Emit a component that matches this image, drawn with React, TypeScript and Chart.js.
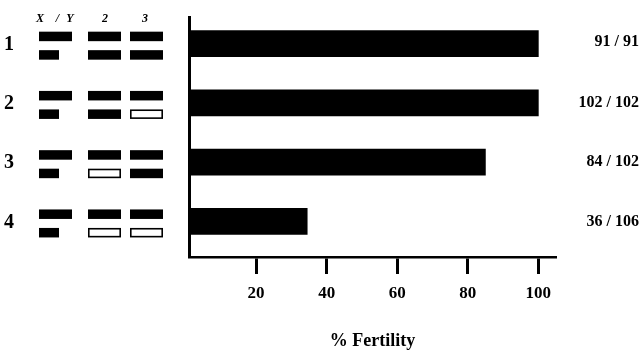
import React, { useEffect, useRef } from "react";
import { Chart, registerables } from "chart.js";

Chart.register(...registerables);

// ---- data ----
const rowLabels = ["1", "2", "3", "4"];
const rowPositions = [1, 2, 3, 4];
const fertility = [100, 100, 85, 34.5];
const counts = ["91 / 91", "102 / 102", "84 / 102", "36 / 106"];
const xTicks = [20, 40, 60, 80, 100];
const xHeaderParts = ["X", "/", "Y"];
const chrHeaders = ["2", "3"];
// Whether the lower homolog of each chromosome is filled (true) or open (false)
const chr2LowerFilled = [true, true, false, false];
const chr3LowerFilled = [true, false, true, false];

const SERIF = '"Liberation Serif", "Times New Roman", serif';

const diagramPlugin = {
  id: "diagram",
  afterDraw(chart: any) {
    const ctx = chart.ctx as CanvasRenderingContext2D;
    const ys = chart.scales.y;
    ctx.save();
    ctx.fillStyle = "#000";
    ctx.strokeStyle = "#000";
    ctx.textBaseline = "middle";
    ctx.textAlign = "center";

    // column headers
    ctx.font = `italic bold 12px ${SERIF}`;
    const xyCenters = [40, 57.5, 70];
    xHeaderParts.forEach((p, i) => ctx.fillText(p, xyCenters[i], 19));
    const colCenters = [105, 145];
    chrHeaders.forEach((h, i) => ctx.fillText(h, colCenters[i], 19));

    const drawChr = (x: number, y: number, w: number, filled: boolean) => {
      const h = 9.5;
      if (filled) {
        ctx.fillRect(x, y, w, h);
      } else {
        ctx.fillStyle = "#fff";
        ctx.fillRect(x, y, w, h);
        ctx.fillStyle = "#000";
        ctx.lineWidth = 1.6;
        ctx.strokeRect(x + 0.8, y + 0.8, w - 1.6, h - 1.6);
      }
    };

    rowLabels.forEach((lab, i) => {
      const cy = ys.getPixelForValue(rowPositions[i]);
      // row number
      ctx.font = `bold 20px ${SERIF}`;
      ctx.textAlign = "center";
      ctx.fillText(lab, 9, cy + 1);

      const top = cy - 12;
      const bot = cy + 6.5;
      // X / Y
      drawChr(39, top, 33, true);
      drawChr(39, bot, 20, true);
      // chromosome 2
      drawChr(88, top, 33, true);
      drawChr(88, bot, 33, chr2LowerFilled[i]);
      // chromosome 3
      drawChr(130, top, 33, true);
      drawChr(130, bot, 33, chr3LowerFilled[i]);

      // counts
      ctx.font = `bold 16px ${SERIF}`;
      ctx.textAlign = "right";
      ctx.fillText(counts[i], 639, i === 0 ? cy - 2 : cy);
    });
    ctx.restore();
  },
};

export default function App() {
  const ref = useRef<HTMLCanvasElement | null>(null);
  useEffect(() => {
    document.body.style.margin = "0";
    const chart = new Chart(ref.current!, {
      type: "bar",
      data: {
        datasets: [
          {
            data: rowPositions.map((p, i) => ({ x: fertility[i], y: p })),
            backgroundColor: "#000",
            borderWidth: 0,
            barThickness: 26,
          },
        ],
      },
      options: {
        indexAxis: "y",
        animation: false,
        responsive: true,
        maintainAspectRatio: false,
        layout: { padding: { left: 189, right: 85, top: 17, bottom: 0 } },
        plugins: { legend: { display: false }, tooltip: { enabled: false } },
        scales: {
          x: {
            type: "linear",
            min: 1,
            max: 105,
            afterBuildTicks: (s: any) => {
              s.ticks = xTicks.map((v) => ({ value: v }));
            },
            grid: {
              display: true,
              drawOnChartArea: false,
              drawTicks: true,
              tickLength: 17,
              tickWidth: 3,
              tickColor: "#000",
            },
            border: { display: true, color: "#000", width: 2.5 },
            ticks: {
              color: "#000",
              padding: 9,
              font: { family: SERIF, size: 17, weight: "bold" },
            },
            title: {
              display: true,
              text: "% Fertility",
              color: "#000",
              font: { family: SERIF, size: 18, weight: "bold" },
              padding: { top: 18, bottom: 0 },
            },
          },
          y: {
            type: "linear",
            reverse: true,
            offset: false,
            min: 0.55,
            max: 4.6,
            grid: { display: true, offset: false, drawOnChartArea: false, drawTicks: false },
            border: { display: true, color: "#000", width: 3 },
            ticks: { display: false },
          },
        },
      },
      plugins: [diagramPlugin],
    });
    return () => chart.destroy();
  }, []);
  return (
    <div style={{ position: "absolute", left: 0, top: 0, width: 641, height: 352 }}>
      <canvas ref={ref} />
    </div>
  );
}
